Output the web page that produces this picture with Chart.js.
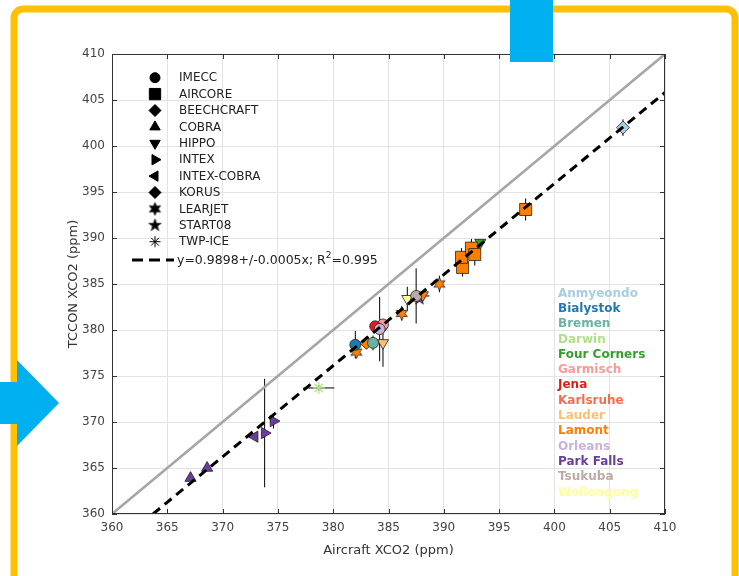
<!DOCTYPE html>
<html>
<head>
<meta charset="utf-8">
<script src="https://cdn.jsdelivr.net/npm/chart.js@4.4.1/dist/chart.umd.min.js"></script>
<style>
  html, body { margin: 0; padding: 0; background: #fff; }
</style>
</head>
<body>
<canvas id="xco2Chart" width="739" height="576"></canvas>
<script>
// campaigns (legend order) and sites (legend order)
const campaigns = ['IMECC', 'AIRCORE', 'BEECHCRAFT', 'COBRA', 'HIPPO', 'INTEX', 'INTEX-COBRA', 'KORUS', 'LEARJET', 'START08', 'TWP-ICE'];
const sites = ['Anmyeondo', 'Bialystok', 'Bremen', 'Darwin', 'Four Corners', 'Garmisch', 'Jena', 'Karlsruhe', 'Lauder', 'Lamont', 'Orleans', 'Park Falls', 'Tsukuba', 'Wollongong'];

// one entry per comparison
const aircraftX = [367.1, 368.6, 372.9, 373.8, 374.6, 378.7, 382.0, 382.1, 383.0, 383.6, 384.5, 384.4, 384.5, 383.8, 384.2, 386.2, 386.7, 387.5, 387.8, 388.1, 389.6, 391.7, 391.6, 392.5, 392.8, 393.3, 397.4, 406.2];
const tcconY    = [363.9, 365.0, 368.4, 368.8, 370.1, 373.7, 378.4, 377.6, 378.6, 378.6, 378.6, 380.4, 380.6, 380.4, 380.1, 381.8, 383.4, 383.7, 383.4, 383.8, 385.0, 386.8, 387.9, 388.9, 388.2, 389.5, 393.1, 402.0];
const pointSite = ['Park Falls', 'Park Falls', 'Park Falls', 'Park Falls', 'Park Falls', 'Darwin', 'Bialystok', 'Lamont', 'Lamont', 'Bremen', 'Lauder', 'Karlsruhe', 'Garmisch', 'Jena', 'Orleans', 'Lamont', 'Wollongong', 'Tsukuba', 'Park Falls', 'Lamont', 'Lamont', 'Lamont', 'Lamont', 'Lamont', 'Lamont', 'Four Corners', 'Lamont', 'Anmyeondo'];
const pointCampaign = ['COBRA', 'COBRA', 'INTEX-COBRA', 'INTEX', 'INTEX', 'TWP-ICE', 'IMECC', 'LEARJET', 'BEECHCRAFT', 'IMECC', 'HIPPO', 'IMECC', 'IMECC', 'IMECC', 'IMECC', 'LEARJET', 'HIPPO', 'IMECC', 'START08', 'HIPPO', 'LEARJET', 'AIRCORE', 'AIRCORE', 'AIRCORE', 'AIRCORE', 'HIPPO', 'AIRCORE', 'KORUS'];
const errX = [0, 0, 0.3, 0.3, 0.3, 1.4, 0.3, 0.2, 0.2, 0.2, 0.2, 0.3, 0.3, 0.2, 0.3, 0.2, 0.2, 1.2, 0.2, 0.3, 0.3, 0, 0, 0, 0, 0, 0.5, 0.2];
const errY = [0, 0, 0.3, 5.9, 0.8, 0.3, 1.5, 0.5, 0.4, 0.8, 2.6, 0.6, 0.5, 0.4, 3.5, 0.8, 1.3, 3.0, 0.3, 0.4, 0.9, 1.0, 1.0, 1.0, 1.2, 0.3, 1.2, 0.9];

const axisTicks = [360, 365, 370, 375, 380, 385, 390, 395, 400, 405, 410];
const fitSlope = 0.9898;
const fitText = 'y=0.9898+/-0.0005x; R';
const fitR2 = '=0.995';

// styles
const siteColors = ['#a6cee3', '#1f78b4', '#69b3a2', '#b2df8a', '#33a02c', '#fb9a99', '#e31a1c', '#f46d53', '#fdbf6f', '#ff7f00', '#cab2d6', '#6a3d9a', '#bcaaa4', '#ffff99'];
const markerShapes = {
    'IMECC': { style: 'circle', rotation: 0, radius: 5.5 },
    'AIRCORE': { style: 'rect', rotation: 0, radius: 8.5 },
    'BEECHCRAFT': { style: 'rectRot', rotation: 0, radius: 6.5 },
    'COBRA': { style: 'triangle', rotation: 0, radius: 6.5 },
    'HIPPO': { style: 'triangle', rotation: 180, radius: 6.5 },
    'INTEX': { style: 'triangle', rotation: 90, radius: 6.5 },
    'INTEX-COBRA': { style: 'triangle', rotation: -90, radius: 6.5 },
    'KORUS': { style: 'rectRot', rotation: 0, radius: 6.5 },
    'LEARJET': { star: 6, inner: 0.5, radius: 6.5 },
    'START08': { star: 5, inner: 0.4, radius: 6.5 },
    'TWP-ICE': { style: 'star', rotation: 0, radius: 6 },
};

const colorOf = site => siteColors[sites.indexOf(site)];

function starImage(tips, inner, fill, outer) {
    const c = document.createElement('canvas');
    const s = Math.ceil(outer * 2 + 2);
    c.width = s;
    c.height = s;
    const g = c.getContext('2d');
    g.beginPath();
    for (let i = 0; i < tips * 2; i++) {
        const r = i % 2 ? outer * inner : outer;
        const a = -Math.PI / 2 + i * Math.PI / tips;
        g.lineTo(s / 2 + r * Math.cos(a), s / 2 + r * Math.sin(a));
    }
    g.closePath();
    g.fillStyle = fill;
    g.fill();
    g.lineWidth = 0.8;
    g.strokeStyle = '#222';
    g.stroke();
    return c;
}

// DATASETS
const pointDatasets = campaigns.map(camp => {
    const idx = pointCampaign.map((c, i) => c === camp ? i : -1).filter(i => i >= 0);
    const shape = markerShapes[camp];
    const fills = idx.map(i => colorOf(pointSite[i]));
    return {
        type: 'scatter',
        label: camp,
        order: 1,
        data: idx.map(i => ({ x: aircraftX[i], y: tcconY[i] })),
        pointStyle: shape.star ? fills.map(f => starImage(shape.star, shape.inner, f, shape.radius)) : shape.style,
        pointRotation: shape.rotation || 0,
        pointRadius: shape.radius,
        pointBackgroundColor: fills,
        pointBorderColor: shape.style === 'star' ? fills : '#222',
        pointBorderWidth: shape.style === 'star' ? 1.2 : 0.8,
    };
});

const oneToOne = {
    type: 'line',
    label: '1:1',
    order: 2,
    data: [{ x: axisTicks[0], y: axisTicks[0] }, { x: axisTicks[axisTicks.length - 1], y: axisTicks[axisTicks.length - 1] }],
    borderColor: '#a6a6a6',
    borderWidth: 2.5,
    pointRadius: 0,
};

const fitLine = {
    type: 'line',
    label: 'fit',
    order: 0,
    data: [{ x: axisTicks[0] / fitSlope, y: axisTicks[0] }, { x: axisTicks[axisTicks.length - 1], y: axisTicks[axisTicks.length - 1] * fitSlope }],
    borderColor: '#000',
    borderWidth: 3,
    borderDash: [9, 6],
    pointRadius: 0,
};

// PLUGINS
const frame = {
    id: 'frame',
    beforeDraw(chart) {
        const { ctx } = chart;
        ctx.save();
        ctx.fillStyle = '#fff';
        ctx.fillRect(0, 0, chart.width, chart.height);
        ctx.strokeStyle = '#ffc000';
        ctx.lineWidth = 7;
        ctx.beginPath();
        ctx.roundRect(14, 9, 721, 620, 9);
        ctx.stroke();
        ctx.restore();
    },
    afterDraw(chart) {
        const { ctx } = chart;
        ctx.save();
        ctx.fillStyle = '#00b0f0';
        ctx.fillRect(510, 0, 43, 62);
        ctx.beginPath();
        ctx.moveTo(0, 382);
        ctx.lineTo(17, 382);
        ctx.lineTo(17, 360);
        ctx.lineTo(59, 403);
        ctx.lineTo(17, 446);
        ctx.lineTo(17, 424);
        ctx.lineTo(0, 424);
        ctx.closePath();
        ctx.fill();
        ctx.restore();
    }
};

const errorBars = {
    id: 'errorBars',
    beforeDatasetsDraw(chart) {
        const { ctx, scales: { x, y } } = chart;
        ctx.save();
        ctx.strokeStyle = '#000';
        ctx.lineWidth = 1;
        aircraftX.forEach((ax, i) => {
            const px = x.getPixelForValue(ax);
            const py = y.getPixelForValue(tcconY[i]);
            ctx.beginPath();
            if (errY[i] > 0) {
                ctx.moveTo(px, y.getPixelForValue(tcconY[i] - errY[i]));
                ctx.lineTo(px, y.getPixelForValue(tcconY[i] + errY[i]));
            }
            if (errX[i] > 0) {
                ctx.moveTo(x.getPixelForValue(ax - errX[i]), py);
                ctx.lineTo(x.getPixelForValue(ax + errX[i]), py);
            }
            ctx.stroke();
        });
        ctx.restore();
    }
};

const boxAndLegends = {
    id: 'boxAndLegends',
    afterDatasetsDraw(chart) {
        const { ctx, chartArea: { left, right, top, bottom }, scales: { x, y } } = chart;
        ctx.save();

        // axes box with inward ticks
        ctx.strokeStyle = '#333';
        ctx.lineWidth = 1;
        ctx.strokeRect(left + 0.5, top + 0.5, right - left - 1, bottom - top - 1);
        ctx.beginPath();
        axisTicks.forEach(t => {
            const px = Math.round(x.getPixelForValue(t)) + 0.5;
            const py = Math.round(y.getPixelForValue(t)) + 0.5;
            ctx.moveTo(px, bottom); ctx.lineTo(px, bottom - 5);
            ctx.moveTo(px, top); ctx.lineTo(px, top + 5);
            ctx.moveTo(left, py); ctx.lineTo(left + 5, py);
            ctx.moveTo(right, py); ctx.lineTo(right - 5, py);
        });
        ctx.stroke();

        // campaign legend (black markers)
        ctx.textBaseline = 'middle';
        ctx.textAlign = 'left';
        ctx.font = '12px "DejaVu Sans"';
        campaigns.forEach((camp, k) => {
            const ly = 77.7 + k * 16.4;
            const shape = markerShapes[camp];
            ctx.fillStyle = '#000';
            ctx.strokeStyle = '#000';
            Chart.helpers.drawPoint(ctx, {
                pointStyle: shape.star ? starImage(shape.star, shape.inner, '#000', shape.radius) : shape.style,
                rotation: shape.rotation || 0,
                radius: shape.radius - 0.5,
                borderWidth: 1,
            }, 155, ly);
            ctx.fillStyle = '#222';
            ctx.fillText(camp, 179, ly + 0.5);
        });

        // fit line legend entry
        const fy = 260;
        ctx.strokeStyle = '#000';
        ctx.lineWidth = 3;
        ctx.setLineDash([11, 6]);
        ctx.beginPath();
        ctx.moveTo(132, fy);
        ctx.lineTo(174, fy);
        ctx.stroke();
        ctx.setLineDash([]);
        ctx.fillStyle = '#222';
        ctx.font = '12.5px "DejaVu Sans"';
        ctx.fillText(fitText, 177, fy + 0.5);
        let tx = 177 + ctx.measureText(fitText).width;
        ctx.font = '9px "DejaVu Sans"';
        ctx.fillText('2', tx, fy - 4);
        tx += ctx.measureText('2').width;
        ctx.font = '12.5px "DejaVu Sans"';
        ctx.fillText(fitR2, tx, fy + 0.5);

        // site legend (coloured text)
        ctx.font = 'bold 12px "DejaVu Sans"';
        sites.forEach((site, k) => {
            ctx.fillStyle = siteColors[k];
            ctx.fillText(site, 558, 293.5 + k * 15.3);
        });

        ctx.restore();
    }
};

// CHART
const tickFont = { family: '"DejaVu Sans"', size: 12 };
const titleFont = { family: '"DejaVu Sans"', size: 13 };

const xco2Chart = new Chart(document.getElementById('xco2Chart'), {
    type: 'scatter',
    data: { datasets: [fitLine, ...pointDatasets, oneToOne] },
    plugins: [frame, errorBars, boxAndLegends],
    options: {
        responsive: false,
        animation: false,
        events: [],
        layout: { padding: { left: 0, right: 74, top: 54, bottom: 0 } },
        plugins: {
            legend: { display: false },
            tooltip: { enabled: false },
        },
        scales: {
            x: {
                type: 'linear',
                min: axisTicks[0],
                max: axisTicks[axisTicks.length - 1],
                afterBuildTicks: s => { s.ticks = axisTicks.map(v => ({ value: v })); },
                afterFit: s => { s.height = 62; },
                grid: { color: '#e3e3e3', drawTicks: false },
                border: { display: false },
                ticks: { color: '#444', font: tickFont, padding: 7, maxRotation: 0 },
                title: { display: true, text: 'Aircraft XCO2 (ppm)', color: '#333', font: titleFont, padding: { top: 0, bottom: 18 } },
            },
            y: {
                type: 'linear',
                min: axisTicks[0],
                max: axisTicks[axisTicks.length - 1],
                afterBuildTicks: s => { s.ticks = axisTicks.map(v => ({ value: v })); },
                afterFit: s => { s.width = 112; },
                grid: { color: '#e3e3e3', drawTicks: false },
                border: { display: false },
                ticks: { color: '#444', font: tickFont, padding: 7 },
                title: { display: true, text: 'TCCON XCO2 (ppm)', color: '#333', font: titleFont, padding: { top: 66, bottom: 0 } },
            },
        },
    },
});
</script>
</body>
</html>
